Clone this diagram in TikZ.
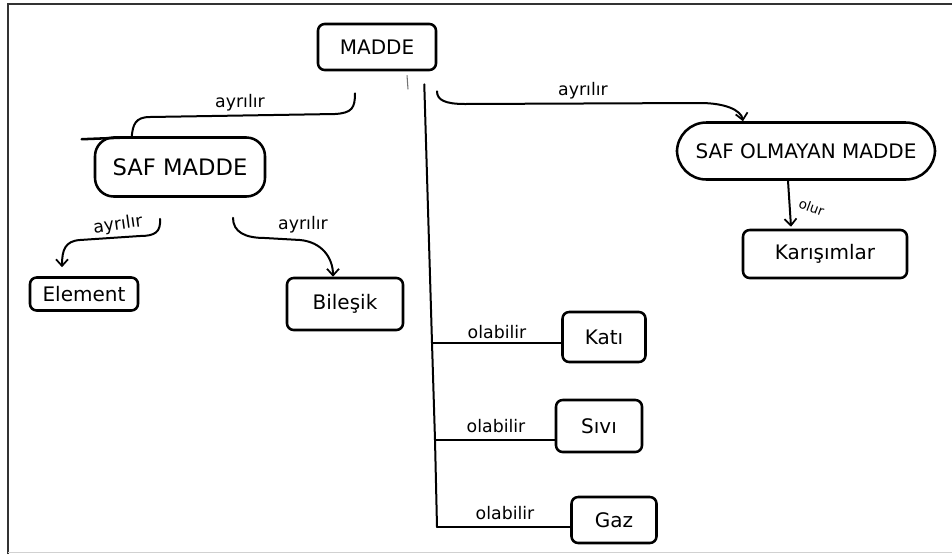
\documentclass[tikz,border=0pt]{standalone}
\usepackage{fontspec}
\setmainfont{DejaVu Sans}
\usetikzlibrary{arrows.meta,calc}
\newdimen\pxu \pxu=0.75pt

\begin{document}
\begin{tikzpicture}[x=0.75pt,y=-0.75pt,
  box/.style={draw, line width=1.9pt, rounded corners=5pt, inner sep=0pt,
              font=\fontsize{15}{18}\selectfont},
  lab/.style={inner sep=1pt, font=\fontsize{13}{15}\selectfont},
  link/.style={line width=1.5pt, line cap=round, line join=round},
  tip/.style={-{Straight Barb[length=5pt,width=9pt,line width=1.3pt]}}]
\useasboundingbox (0,0) rectangle (952,554);

% frame
\draw[line width=1.6pt, black!80] (8,554) -- (8,4) -- (952,4);
\draw[line width=1pt, black!18] (8,552.5) -- (952,552.5);

% concepts
\node[box, minimum width=118\pxu, minimum height=46\pxu] (madde) at (377,47) {MADDE};
\node[box, rounded corners=14pt, minimum width=170\pxu, minimum height=59\pxu,
      font=\fontsize{17}{20}\selectfont] (saf) at (180,167) {SAF MADDE};
\node[box, minimum width=108\pxu, minimum height=33\pxu] (element) at (84,294) {Element};
\node[box, minimum width=116\pxu, minimum height=52\pxu] (bilesik) at (345,304) {Bileşik};
\node[box, rounded corners=22pt, minimum width=258\pxu, minimum height=57\pxu] (safolm) at (806,151) {SAF OLMAYAN MADDE};
\node[box, minimum width=164\pxu, minimum height=48\pxu] (karisim) at (825,254) {Karışımlar};
\node[box, minimum width=83\pxu, minimum height=50\pxu] (kati) at (604,337) {Katı};
\node[box, minimum width=86\pxu, minimum height=52\pxu] (sivi) at (599,426) {Sıvı};
\node[box, minimum width=85\pxu, minimum height=46\pxu] (gaz) at (614,520) {Gaz};

% overhanging top stroke of the SAF MADDE box
\draw[line width=1.9pt, line cap=round] ([shift={(26,1.5)}]saf.north west) -- ++(-38,1.5);
% small pen mark under MADDE
\draw[line width=0.8pt, black!55] ([shift={(30,4)}]madde.south) -- ++(1,14);

% MADDE -> SAF MADDE
\draw[link] ([shift={(-22,22)}]madde.south)
  .. controls (355,108) and (352,113) .. (335,114) -- (150,117)
  .. controls (135,117) and (133,125) .. ([shift={(38,0)}]saf.north west);
% SAF MADDE -> Element
\draw[link, tip] ([shift={(-20,21)}]saf.south)
  .. controls (161,232) and (155,236) .. (140,236) -- (80,240)
  .. controls (65,241) and (62,250) .. ([shift={(-22,-9)}]element.north);
% SAF MADDE -> Bileşik
\draw[link, tip] ([shift={(53,20)}]saf.south)
  .. controls (233,232) and (245,238) .. (265,238) -- (300,240)
  .. controls (322,242) and (333,258) .. ([shift={(-12,0)}]bilesik.north);
% MADDE -> SAF OLMAYAN MADDE
\draw[link, tip] ([shift={(60,20)}]madde.south)
  .. controls (437,100) and (445,104) .. (465,104) -- (700,103)
  .. controls (725,103) and (741,110) .. ([shift={(-63,0)}]safolm.north);
% SAF OLMAYAN MADDE -> Karışımlar
\draw[link, tip] ([shift={(-18,0)}]safolm.south) -- ([shift={(-34,-2)}]karisim.north);

% MADDE -> states of matter
\coordinate (t1) at (432,343);
\coordinate (t2) at (435,440);
\coordinate (t3) at (437,527);
\draw[link] ([shift={(-13,13)}]madde.south east) -- (t1) -- (t2) -- (t3);
\draw[link] (t1) -- (t1 -| kati.west);
\draw[link] (t2) -- (t2 -| sivi.west);
\draw[link] (t3) -- (t3 -| gaz.west);

% link labels
\node[lab] (l1) at (240,103) {ayrılır};
\node[lab, rotate=8] (l2) at (118,225) {ayrılır};
\node[lab] (l3) at (303,225) {ayrılır};
\node[lab] (l4) at (583,91) {ayrılır};
\node[lab, rotate=-20, anchor=west, font=\fontsize{10}{12}\selectfont] (l5) at (798,202) {olur};
\node[lab] (l6) at (497,332) {olabilir};
\node[lab] (l7) at (496,426) {olabilir};
\node[lab] (l8) at (505,513) {olabilir};
\end{tikzpicture}
\end{document}
